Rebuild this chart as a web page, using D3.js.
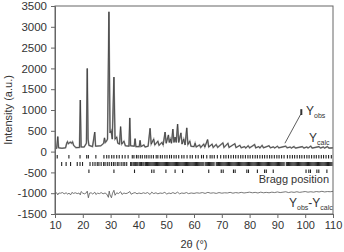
<!DOCTYPE html>
<html>
<head>
<meta charset="utf-8">
<script src="https://cdn.jsdelivr.net/npm/d3@7"></script>
<style>
  body { margin: 0; background: #fff; }
  text { font-family: "Liberation Sans", Arial, sans-serif; fill: #333; }
</style>
</head>
<body>
<div id="chart"></div>
<script>
// tick labels
let x_ticks = [10, 20, 30, 40, 50, 60, 70, 80, 90, 100, 110];
let y_ticks = [-1500, -1000, -500, 0, 500, 1000, 1500, 2000, 2500, 3000, 3500];

// observed / calculated profile, [2theta, intensity]
let profile = [
  [10.0, 60], [10.6, 80], [11.0, 360], [11.3, 90], [12.5, 80], [13.8, 90], [14.2, 200], [14.5, 240],
  [14.8, 190], [15.2, 210], [15.5, 230], [15.9, 200], [16.3, 235], [16.7, 150], [17.5, 95], [18.8, 100],
  [19.1, 1240], [19.4, 110], [20.5, 110], [21.3, 200], [21.6, 2000], [21.9, 300], [22.2, 150], [23.5, 120],
  [24.3, 470], [24.6, 130], [26.5, 140], [27.5, 200], [27.8, 330], [28.1, 220], [28.5, 250], [28.9, 300],
  [29.4, 3360], [29.8, 450], [30.2, 500], [30.6, 300], [31.2, 1790], [31.6, 300], [32.2, 350], [32.6, 200],
  [33.2, 180], [33.6, 600], [34.0, 180], [34.8, 250], [35.3, 140], [36.6, 130], [36.9, 810], [37.2, 140],
  [38.5, 130], [38.8, 310], [39.1, 120], [40.3, 120], [40.6, 270], [40.9, 120], [42.0, 160], [42.4, 110],
  [43.5, 130], [44.2, 560], [44.6, 180], [45.5, 300], [45.9, 160], [47.0, 250], [47.4, 150], [48.5, 220],
  [48.9, 160], [49.6, 470], [50.0, 200], [50.8, 400], [51.1, 220], [51.5, 300], [51.9, 200], [52.4, 540],
  [52.8, 220], [53.2, 350], [53.6, 220], [54.1, 660], [54.5, 220], [55.3, 450], [55.7, 180], [56.3, 300],
  [56.8, 160], [57.4, 570], [57.8, 170], [58.5, 250], [58.9, 130], [60.0, 120], [60.4, 200], [60.8, 110],
  [62.0, 160], [62.4, 100], [63.5, 180], [63.9, 110], [64.9, 290], [65.3, 110], [66.5, 180], [66.9, 100],
  [68.0, 170], [68.5, 100], [70.4, 210], [70.8, 100], [72.2, 200], [72.6, 100], [74.7, 190], [75.1, 95],
  [76.5, 150], [77.0, 90], [78.2, 120], [78.6, 85], [79.5, 140], [80.0, 90], [81.8, 170], [82.2, 90],
  [83.3, 120], [83.7, 85], [84.5, 150], [85.0, 90], [87.0, 140], [87.5, 90], [88.6, 115], [89.0, 85],
  [90.0, 130], [90.5, 90], [93.0, 130], [93.5, 90], [94.6, 110], [95.0, 85], [96.0, 120], [96.5, 85],
  [99.0, 120], [99.5, 85], [100.6, 110], [101.0, 85], [102.0, 130], [102.5, 85], [105.0, 120], [105.5, 85],
  [106.5, 110], [107.0, 85], [108.0, 120], [108.5, 85], [110.0, 90]
];

// difference curve, [2theta, intensity]
let diff = [
  [10, -1010], [10.6, -990], [11.0, -1040], [11.4, -995], [12, -1000], [12.7, -985], [13.3, -1015], [14, -990],
  [14.6, -1025], [15, -995], [15.6, -1040], [16.1, -980], [16.6, -1005], [17.3, -990], [18, -1010], [18.6, -995],
  [19.1, -1040], [19.4, -960], [20, -1000], [20.6, -1015], [21.3, -990], [21.6, -950], [22.0, -1110], [22.4, -1000],
  [23, -990], [23.6, -1020], [24.3, -975], [24.7, -1030], [25.3, -1000], [26, -1010], [26.6, -985], [27.3, -1015],
  [28, -995], [28.6, -1020], [29.2, -1100], [29.5, -950], [29.8, -1040], [30.3, -1110], [30.7, -1000], [31.2, -930],
  [31.6, -1050], [32.2, -990], [32.8, -1010], [33.6, -965], [34.1, -1030], [34.8, -995], [35.5, -1010], [36.2, -995],
  [36.9, -960], [37.4, -1025], [38.1, -1000], [38.8, -985], [39.5, -1015], [40.2, -995], [41, -1010], [41.8, -990],
  [42.5, -1005], [43.3, -985], [44.2, -1030], [44.8, -975], [45.5, -1010], [46.3, -990], [47, -1015], [47.8, -995],
  [48.6, -1005], [49.5, -980], [50.2, -1020], [51, -995], [51.7, -1010], [52.4, -985], [53.2, -1010], [54.1, -975],
  [54.8, -1015], [55.6, -995], [56.4, -1005], [57.3, -985], [58, -1010], [59, -995], [60, -1005], [61, -990],
  [62, -1000], [63, -985], [64, -1005], [65, -980], [66, -1000], [67, -990], [68, -1005], [69, -985],
  [70, -1000], [71, -990], [72, -995], [73, -980], [74, -1000], [75, -985], [76, -995], [77, -980],
  [78, -995], [79, -985], [80, -975], [81, -990], [82, -980], [83, -995], [84, -975], [85, -990],
  [86, -980], [87, -990], [88, -975], [89, -985], [90, -970], [91, -985], [92, -975], [93, -965],
  [94, -985], [95, -970], [96, -980], [97, -965], [98, -980], [99, -970], [100, -960], [101, -975],
  [102, -965], [103, -975], [104, -960], [105, -970], [106, -955], [107, -970], [108, -960], [109, -965], [110, -955]
];

// Bragg positions, three phases
let bragg_1 = [10.8, 15.0, 19.0, 21.4, 22.0, 24.7, 27.6, 28.6, 29.4, 30.4, 31.2, 32.2, 33.1, 34.2, 35.2, 36.3,
  37.8, 38.4, 39.3, 39.9, 40.7, 41.4, 42.3, 43.0, 43.8, 44.6, 45.4, 46.4, 47.0, 47.9, 48.6, 49.5, 50.3, 51.2,
  51.9, 52.8, 53.6, 54.5, 55.6, 56.4, 57.5, 58.6, 59.4, 60.6, 61.5, 62.7, 63.4, 64.6, 65.8, 66.5, 67.3, 68.4,
  69.6, 70.7, 71.5, 72.4, 73.3, 74.2, 75.0, 75.9, 76.8, 77.6, 78.5, 79.4, 80.2, 81.1, 82.0, 82.8, 83.7, 84.6,
  85.4, 86.3, 87.2, 88.0, 88.9, 89.8, 90.6, 91.5, 92.4, 93.6, 94.5, 95.4, 96.2, 97.1, 98.0, 98.8, 99.7, 100.6,
  101.4, 102.3, 103.2, 104.0, 104.9, 105.8, 106.6, 107.5, 108.4, 109.4];
let bragg_2 = [12.4, 14.0, 15.6, 18.0, 19.0, 19.9, 22.6, 23.6, 24.4, 25.2, 25.8, 26.6, 27.5, 28.0, 28.8, 29.5,
  30.3, 31.0, 31.6, 32.4, 33.0, 33.8, 34.5, 35.1, 35.8, 37.2, 37.6, 38.1, 38.5, 38.9, 39.4, 39.8, 40.3, 40.7,
  41.1, 41.6, 42.0, 42.5, 42.9, 43.3, 43.7, 44.1, 44.5, 44.9, 45.3, 45.7, 46.1, 46.5, 46.9, 47.3, 47.7, 48.1,
  48.5, 48.9, 49.3, 49.7, 50.1, 50.5, 50.9, 51.3, 51.7, 52.1, 52.5, 52.9, 53.3, 53.7, 54.1, 54.5, 54.9, 55.3,
  55.7, 56.1, 56.5, 56.9, 57.3, 57.7, 58.1, 58.5, 58.9, 59.3, 59.7, 60.1, 60.5, 60.9, 61.3, 61.7, 62.1, 62.5,
  62.9, 63.3, 64.0, 64.4, 64.8, 65.2, 65.6, 66.0, 66.4, 66.8, 67.2, 68.0, 68.4, 68.8, 69.2, 69.6, 70.0, 70.4,
  70.8, 71.2, 71.6, 72.0, 72.4, 72.8, 73.2, 73.6, 74.0, 74.4, 74.8, 75.2, 75.6, 76.0, 76.4, 76.8, 77.2, 77.6,
  78.0, 78.4, 78.8, 79.2, 79.6, 80.0, 80.4, 80.8, 81.2, 81.6, 82.0, 82.4, 82.8, 83.2, 83.6, 84.0, 84.4, 84.8,
  85.2, 85.6, 86.0, 86.4, 86.8, 87.2, 87.6, 88.0, 88.4, 88.8, 89.2, 89.6, 90.0, 90.4, 90.8, 91.2, 91.6, 92.0,
  92.4, 93.2, 93.6, 94.0, 94.4, 94.8, 95.2, 95.6, 96.0, 96.4, 96.8, 97.2, 97.6, 98.0, 98.4, 98.8, 99.2, 99.6,
  100.0, 100.4, 100.8, 101.2, 101.6, 102.0, 102.4, 102.8, 103.2, 103.6, 104.0, 104.4, 104.8, 105.2, 105.6,
  106.0, 106.4, 106.8, 107.2, 107.6, 108.0, 108.4, 108.8, 109.2, 109.6];
let bragg_3 = [22.2, 31.2, 38.6, 44.8, 45.6, 49.9, 53.2, 55.9, 65.3, 69.8, 70.5, 74.2, 74.8, 79.0, 79.6, 82.8,
  85.4, 86.0, 88.5, 100.3, 101.3, 101.9, 104.2, 104.9, 107.8];

let chart_width = 344;
let chart_height = 252;
let margin = { left: 55, right: 11, top: 6, bottom: 38 };

let svg = d3.select('#chart')
    .append('svg')
    .attr('width', chart_width)
    .attr('height', chart_height);

let x_scale = d3.scaleLinear()
    .domain([10, 110])
    .range([margin.left, chart_width - margin.right]);

let y_scale = d3.scaleLinear()
    .domain([-1500, 3500])
    .range([chart_height - margin.bottom, margin.top]);

let line = d3.line()
    .x(function(d){ return x_scale(d[0]); })
    .y(function(d){ return y_scale(d[1]); });

// frame
svg.append('rect')
    .attr('x', margin.left)
    .attr('y', margin.top)
    .attr('width', chart_width - margin.left - margin.right)
    .attr('height', chart_height - margin.top - margin.bottom)
    .attr('fill', 'none')
    .attr('stroke', '#666')
    .attr('stroke-width', 1);

// axes (plain hyphen minus, no thousands separator)
let plain = function(d){ return String(d); };
let x_axis = svg.append('g')
    .attr('transform', 'translate(0,' + (chart_height - margin.bottom) + ')')
    .call(d3.axisBottom(x_scale).tickValues(x_ticks).tickFormat(plain).tickSize(4).tickPadding(3));
let y_axis = svg.append('g')
    .attr('transform', 'translate(' + margin.left + ',0)')
    .call(d3.axisLeft(y_scale).tickValues(y_ticks).tickFormat(plain).tickSize(4).tickPadding(4));

[x_axis, y_axis].forEach(function(g, i){
    g.select('.domain').attr('stroke', '#666');
    g.selectAll('line').attr('stroke', '#666');
    g.selectAll('text')
        .attr('font-size', i == 0 ? 11 : 11.5)
        .attr('fill', '#333')
        .style('font-family', '"Liberation Sans", Arial, sans-serif');
});

// observed (gray) and calculated (dark) profiles
svg.append('path')
    .datum(profile)
    .attr('d', line)
    .attr('fill', 'none')
    .attr('stroke', '#9a9a9a')
    .attr('stroke-width', 1.6);
svg.append('path')
    .datum(profile)
    .attr('d', line)
    .attr('fill', 'none')
    .attr('stroke', '#333')
    .attr('stroke-width', 0.7);

// difference
svg.append('path')
    .datum(diff)
    .attr('d', line)
    .attr('fill', 'none')
    .attr('stroke', '#555')
    .attr('stroke-width', 0.8);

// Bragg ticks
let rows = [
    { data: bragg_1, top: -80, bottom: -165 },
    { data: bragg_2, top: -250, bottom: -345 },
    { data: bragg_3, top: -430, bottom: -515 }
];
rows.forEach(function(r){
    svg.append('g')
        .selectAll('line')
        .data(r.data)
        .enter()
        .append('line')
        .attr('x1', function(d){ return x_scale(d); })
        .attr('x2', function(d){ return x_scale(d); })
        .attr('y1', y_scale(r.top))
        .attr('y2', y_scale(r.bottom))
        .attr('stroke', '#222')
        .attr('stroke-width', 1.1);
});

// annotations
svg.append('line')
    .attr('x1', x_scale(98.4)).attr('y1', y_scale(900))
    .attr('x2', x_scale(92.7)).attr('y2', y_scale(200))
    .attr('stroke', '#333').attr('stroke-width', 0.8);
svg.append('line')
    .attr('x1', x_scale(98.6)).attr('y1', y_scale(1020))
    .attr('x2', x_scale(98.6)).attr('y2', y_scale(880))
    .attr('stroke', '#333').attr('stroke-width', 2);

function label(x, y, main, sub, size) {
    let t = svg.append('text')
        .attr('x', x).attr('y', y)
        .attr('font-size', size);
    t.append('tspan').text(main);
    t.append('tspan').text(sub).attr('font-size', 7).attr('dy', 3);
    return t;
}
label(306, 114.5, 'Y', 'obs', 12);
label(309, 142, 'Y', 'calc', 12);

let d_lab = svg.append('text')
    .attr('x', 289).attr('y', 206.5)
    .attr('font-size', 12);
d_lab.append('tspan').text('Y');
d_lab.append('tspan').text('obs').attr('font-size', 7).attr('dy', 3);
d_lab.append('tspan').text('-').attr('dy', -3);
d_lab.append('tspan').text('Y');
d_lab.append('tspan').text('calc').attr('font-size', 7).attr('dy', 3);

svg.append('text')
    .attr('x', 329).attr('y', 182.5)
    .attr('text-anchor', 'end')
    .attr('font-size', 11)
    .text('Bragg position');

// axis titles
svg.append('text')
    .attr('x', x_scale(60)).attr('y', 248)
    .attr('text-anchor', 'middle')
    .attr('font-size', 11)
    .text('2θ (°)');
svg.append('text')
    .attr('transform', 'translate(12,' + y_scale(1000) + ') rotate(-90)')
    .attr('text-anchor', 'middle')
    .attr('font-size', 11)
    .text('Intensity (a.u.)');
</script>
</body>
</html>
